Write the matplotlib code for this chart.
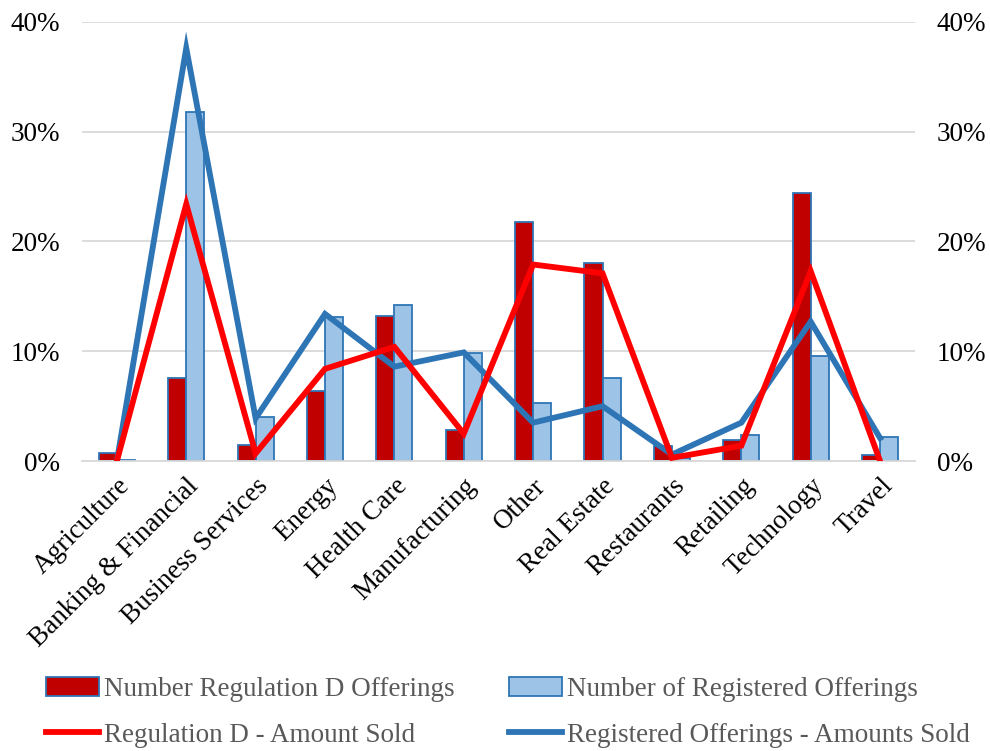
import matplotlib
matplotlib.use("Agg")
import matplotlib.pyplot as plt
import numpy as np
from matplotlib.ticker import PercentFormatter

plt.rcParams['font.family'] = ['Liberation Serif', 'DejaVu Serif']

categories = ["Agriculture", "Banking & Financial", "Business Services", "Energy",
              "Health Care", "Manufacturing", "Other", "Real Estate", "Restaurants",
              "Retailing", "Technology", "Travel"]
reg_d_count = [0.7, 7.6, 1.45, 6.4, 13.2, 2.8, 21.8, 18.0, 1.4, 1.9, 24.4, 0.6]
registered_count = [0.1, 31.8, 4.0, 13.1, 14.2, 9.8, 5.3, 7.6, 0.3, 2.4, 9.6, 2.2]
reg_d_amount = [0.0, 23.4, 0.7, 8.4, 10.4, 2.5, 17.9, 17.1, 0.3, 1.4, 17.3, 0.0]
registered_amount = [0.0, 37.6, 3.9, 13.4, 8.6, 9.9, 3.5, 5.0, 0.6, 3.5, 12.7, 2.1]
y_ticks = [0, 10, 20, 30, 40]

dark_red = "#C00000"
light_blue = "#9DC3E6"
edge_blue = "#2E75B6"
red = "#FF0000"
grid_gray = "#D9D9D9"
text_gray = "#595959"

fig = plt.figure(figsize=(9.9, 7.51), dpi=100)
ax = fig.add_axes([0.083, 0.386, 0.841, 0.585])

x = np.arange(len(categories))
bw = 0.26
b1 = ax.bar(x - bw / 2, reg_d_count, width=bw, color=dark_red, edgecolor=edge_blue,
            linewidth=1.3, zorder=2, label="Number Regulation D Offerings")
b2 = ax.bar(x + bw / 2, registered_count, width=bw, color=light_blue, edgecolor=edge_blue,
            linewidth=1.3, zorder=2, label="Number of Registered Offerings")
l2, = ax.plot(x, registered_amount, color=edge_blue, linewidth=4.2, zorder=3,
              solid_joinstyle='miter', label="Registered Offerings - Amounts Sold")
l1, = ax.plot(x, reg_d_amount, color=red, linewidth=4.2, zorder=4,
              solid_joinstyle='miter', label="Regulation D - Amount Sold")

ax.set_xlim(-0.5, len(categories) - 0.5)
ax.set_ylim(0, 40)
ax.set_yticks(y_ticks)
ax.yaxis.set_major_formatter(PercentFormatter(decimals=0))
ax.grid(axis='y', color=grid_gray, linewidth=1.3, zorder=0)
ax.set_axisbelow(True)
for s in ["top", "right", "left"]:
    ax.spines[s].set_visible(False)
ax.spines["bottom"].set_color(grid_gray)
ax.spines["bottom"].set_linewidth(1.3)
ax.tick_params(axis='y', length=0, labelsize=19.5, colors='black', pad=16)
ax.set_xticks(x)
ax.set_xticklabels(categories, rotation=45, ha='right', rotation_mode='anchor')
ax.tick_params(axis='x', length=0, labelsize=19.5, colors='black', pad=9)

ax2 = ax.twinx()
ax2.set_ylim(0, 40)
ax2.set_yticks(y_ticks)
ax2.yaxis.set_major_formatter(PercentFormatter(decimals=0))
for s in ["top", "right", "left", "bottom"]:
    ax2.spines[s].set_visible(False)
ax2.tick_params(axis='y', length=0, labelsize=19.5, pad=16)

fig.legend(handles=[b1, l1, b2, l2], ncol=2, loc='lower left',
           bbox_to_anchor=(0.022, -0.028), frameon=False, fontsize=19.5,
           labelcolor=text_gray, handlelength=1.95, handletextpad=0.2,
           columnspacing=2.0, labelspacing=0.75)

fig.savefig("out.png", dpi=100)
